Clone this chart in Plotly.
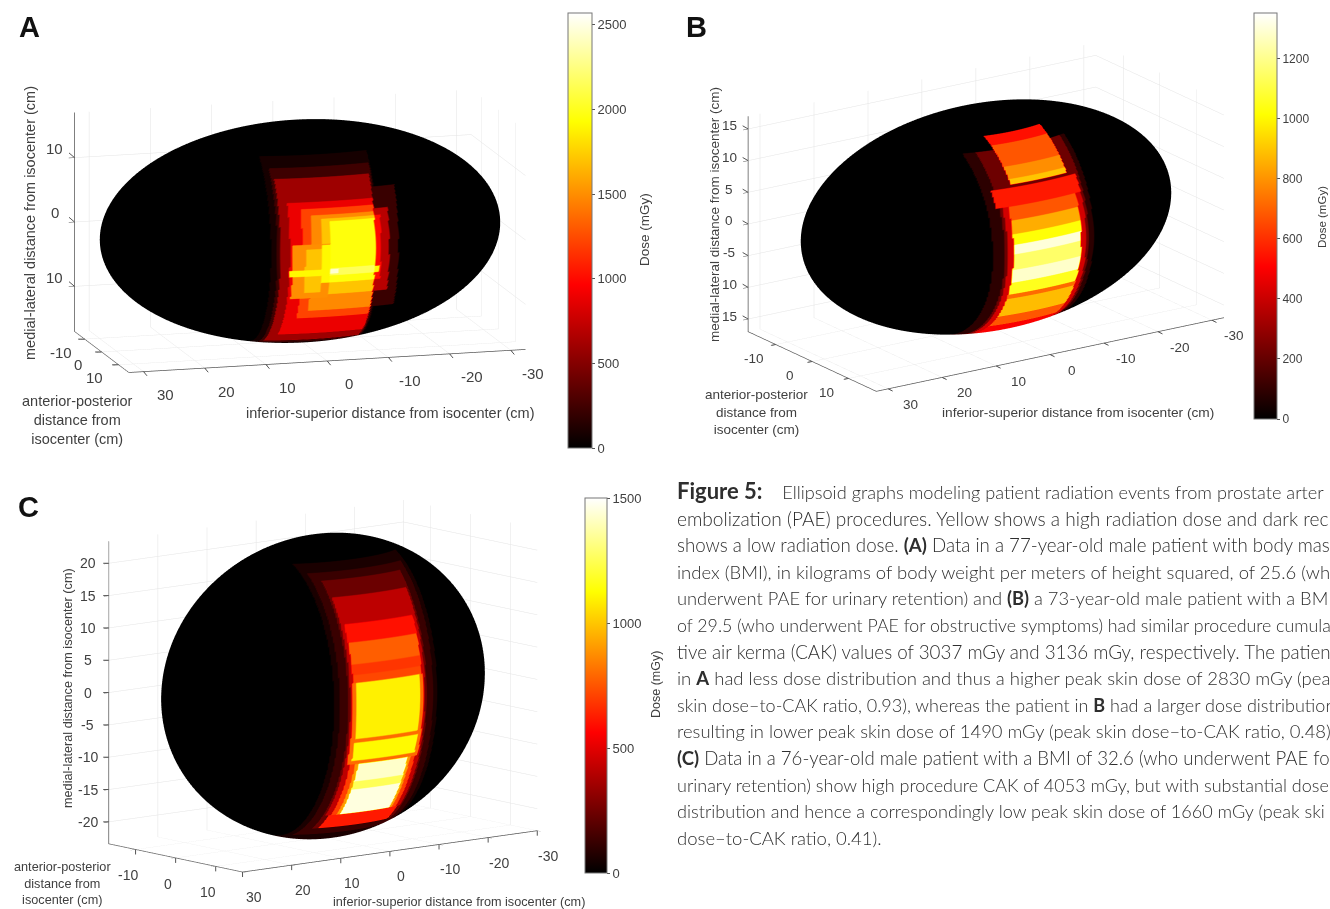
import numpy as np
import plotly.graph_objects as go

W, H = 1330, 909
FONT = "Liberation Sans"
GREY = "#404040"
HOT = [[0, "#000000"], [0.375, "#ff0000"], [0.75, "#ffff00"], [1, "#ffffff"]]

# Panel A: radiation fields (cm) and doses (mGy), painted in order
A_SEMI = (32.4, 16.0, 17.0)
A_X_LO = [-8.5, -8.3, -8, -8, -8, -8, -8, -8, -12, -10.4, -9, -0.6, 0.8, -0.6, -8.8, -8, -2]
A_X_HI = [9, 8, 7.5, 6, 4, 2.4, 0.8, -0.6, -8, -8, -8, 5.5, 3.5, 0.8, 6, -0.6, -0.6]
A_Z_LO = [-16.5, -16, -15.5, -14, -11, -9.7, -7, -5, -9.7, -7, -5, -7.5, -6.5, -5, -3.8, -3.8, -3.5]
A_Z_HI = [13.8, 12.3, 10.8, 7.5, 6.5, 5.6, 5, 4.6, 9, 6, 5, 1.2, 0.5, 1, -2.8, -2.6, -2.8]
A_DOSE = [90, 240, 600, 900, 1220, 1480, 1700, 1950, 220, 700, 1000, 1500, 1700, 1900, 1900, 2150, 2450]
A_MAX = 2570
A_CB_TICKS = [0, 500, 1000, 1500, 2000, 2500]
A_Z_TICKS = [-10, 0, 10]
A_Z_TEXT = ["10", "0", "10"]

# Panel B
B_SEMI = (32.2, 17.6, 17.0)
B_X_LO = [-8.5, -7.5, -7, -7, -6, -6, -6, -6, -6, -6, -6, -6, -6, -6, -6, -5.5, -5.5, -5.5, -5.5]
B_X_HI = [10, 8, 7.5, 8.5, 6.5, 6.5, 6.5, 6.5, 6.5, 6.5, 6.5, 6.5, 6.5, 6.5, 6.5, 5, 5, 5, 5]
B_Z_LO = [-17, -17, -15, 7, 5, 3, 1.4, -0.1, -2.6, -4.8, -7, -7.8, -11.2, -13.3, -17, 9.8, 10.5, 12, 14.5]
B_Z_HI = [14, 14, 9.4, 9.4, 7, 5, 3, 1.4, -0.1, -2.6, -4.8, -7, -7.8, -11.2, -13.3, 10.5, 12, 14.5, 15.5]
B_DOSE = [90, 220, 420, 560, 680, 850, 1020, 1300, 1150, 1280, 1050, 720, 880, 680, 500, 900, 790, 680, 540]
B_MAX = 1353
B_CB_TICKS = [0, 200, 400, 600, 800, 1000, 1200]
B_Z_TICKS = [-15, -10, -5, 0, 5, 10, 15]
B_Z_TEXT = ["15", "10", "-5", "0", "5", "10", "15"]

# Panel C
C_SEMI = (30.0, 16.7, 23.4)
C_X_LO = [-10.5, -9.5, -8, -7.6, -7, -7, -7, -7, -7.2, -6.4, -6.4, -6.6, -5.6, -5, -5, -5, -7]
C_X_HI = [10.5, 9.5, 8, 7.6, 7, 7, 7, 7, 7.2, 6.4, 6.4, 6.6, 5.6, 5, 5, 5, 7]
C_Z_LO = [-23, -21.5, -20.3, -18, 9.4, 6, 4.4, 3.2, -9.5, -5.4, -9, -18, -18, -12.5, -13.8, -18, -20.3]
C_Z_HI = [20.7, 19.4, 18.4, 16, 12, 9.4, 6, 4.4, 3.2, 3.2, -6, -9.5, -9.5, -9.5, -12.5, -13.8, -18]
C_DOSE = [60, 130, 240, 420, 600, 770, 680, 720, 800, 1090, 1110, 700, 900, 1420, 1250, 1450, 620]
C_MAX = 1500
C_CB_TICKS = [0, 500, 1000, 1500]
C_Z_TICKS = [-20, -15, -10, -5, 0, 5, 10, 15, 20]
C_Z_TEXT = ["-20", "-15", "-10", "-5", "0", "5", "10", "15", "20"]

X_TICKS = [-30, -20, -10, 0, 10, 20, 30]
Y_TICKS = [-10, 0, 10]

CAPTION = [
    "<b><span style=\"font-size:22px\">Figure 5:</span></b>\u00a0\u00a0\u00a0 Ellipsoid graphs modeling patient radiation events from prostate arter",
    "embolization (PAE) procedures. Yellow shows a high radiation dose and dark rec",
    "shows a low radiation dose. <b>(A)</b> Data in a 77-year-old male patient with body mas",
    "index (BMI), in kilograms of body weight per meters of height squared, of 25.6 (wh",
    "underwent PAE for urinary retention) and <b>(B)</b> a 73-year-old male patient with a BM",
    "of 29.5 (who underwent PAE for obstructive symptoms) had similar procedure cumula",
    "tive air kerma (CAK) values of 3037 mGy and 3136 mGy, respectively. The patien",
    "in <b>A</b> had less dose distribution and thus a higher peak skin dose of 2830 mGy (pea",
    "skin dose\u2013to-CAK ratio, 0.93), whereas the patient in <b>B</b> had a larger dose distributior",
    "resulting in lower peak skin dose of 1490 mGy (peak skin dose\u2013to-CAK ratio, 0.48)",
    "<b>(C)</b> Data in a 76-year-old male patient with a BMI of 32.6 (who underwent PAE fo",
    "urinary retention) show high procedure CAK of 4053 mGy, but with substantial dose",
    "distribution and hence a correspondingly low peak skin dose of 1660 mGy (peak ski",
    "dose\u2013to-CAK ratio, 0.41).",
]
CAPTION_SIZE = [18.2, 19.1, 18.7, 18.5, 18.3, 17.75, 18.8, 18.5, 18, 18.4, 18.6, 18, 18.1, 18.5]


def ellipsoid(semi, xlo, xhi, zlo, zhi, dose):
    lat = np.linspace(-np.pi / 2, np.pi / 2, 360, dtype=np.float32)
    lon = np.linspace(-np.pi, np.pi, 720, dtype=np.float32)
    lo, la = np.meshgrid(lon, lat)
    x = semi[0] * np.cos(la) * np.sin(lo)
    y = semi[1] * np.cos(la) * np.cos(lo)
    z = semi[2] * np.sin(la)
    d = np.zeros_like(x)
    for a, b, c, e, v in zip(xlo, xhi, zlo, zhi, dose):
        d[(x >= a) & (x < b) & (z >= c) & (z < e) & (y > 0)] = v
    return x, y, z, d


def axis(rng, ticks):
    return dict(
        range=[-rng, rng], tickvals=ticks, title=dict(text=""), showticklabels=False,
        showbackground=False, showgrid=True, gridcolor="#e4e4e4", gridwidth=1,
        zeroline=False, showline=True, linecolor="#555555", linewidth=1.5,
        ticks="outside", ticklen=6, tickcolor="#555555", showspikes=False,
    )


fig = go.Figure()
annots = []


def px_box(x0, x1, y0, y1):
    return dict(x=[x0 / W, x1 / W], y=[1 - y1 / H, 1 - y0 / H])


def label(x, y, text, size, angle=0, **kw):
    annots.append(dict(x=x / W, y=1 - y / H, xref="paper", yref="paper", text=text, showarrow=False,
                       textangle=angle, xanchor=kw.get("xanchor", "center"), yanchor="middle",
                       font=dict(family=kw.get("family", FONT), size=size, color=kw.get("color", GREY),
                                 weight=kw.get("weight", 400))))


def panel(scene, semi, fields, cmax, cbticks, cb, cbsize, dom, az, el, fxy, fz, zt, zl, ticksize,
          xs, ys, zs, xd, yd, zd):
    x, y, z, d = ellipsoid(semi, *fields)
    fig.add_trace(go.Surface(
        x=x, y=y, z=z, surfacecolor=d, cmin=0, cmax=cmax, colorscale=HOT, scene=scene,
        hoverinfo="skip", lighting=dict(ambient=1, diffuse=0, specular=0, fresnel=0, roughness=1),
        colorbar=dict(x=cb[0] / W, xanchor="left", y=1 - (cb[2] + cb[3]) / 2 / H, yanchor="middle",
                      len=cb[3] - cb[2], lenmode="pixels", thickness=cb[1] - cb[0], thicknessmode="pixels",
                      xpad=0, ypad=0, tickvals=cbticks, ticks="outside", ticklen=3, tickcolor="#555555",
                      outlinecolor="#777777", outlinewidth=1,
                      tickfont=dict(family=FONT, size=cbsize, color=GREY)),
    ))
    a, e = np.radians(az), np.radians(el)
    dist = 1.5
    eye = dict(x=dist * np.sin(a) * np.cos(e), y=dist * np.cos(a) * np.cos(e), z=dist * np.sin(e))
    tick_font = dict(family=FONT, size=ticksize, color=GREY)

    def tick(px, py, pz, text, shift, mark):
        return [
            dict(x=px, y=py, z=pz, text=text, showarrow=False, xanchor="center", yanchor="middle",
                 xshift=shift[0], yshift=-shift[1], font=tick_font),
            dict(x=px, y=py, z=pz, text=" ", showarrow=True, arrowhead=0, arrowwidth=1, arrowcolor="#555555",
                 ax=mark[0], ay=mark[1], standoff=0, startstandoff=0, font=dict(size=1)),
        ]

    notes = []
    for t in X_TICKS:
        notes += tick(t, semi[1], -semi[2], str(t), xs, xd)
    for t in Y_TICKS:
        notes += tick(semi[0], t, -semi[2], str(t), ys, yd)
    for t, s in zip(zt, zl):
        notes += tick(semi[0], -semi[1], t, s, zs, zd)
    fig.update_layout(**{scene: dict(
        domain=px_box(*dom),
        xaxis=axis(semi[0], X_TICKS), yaxis=axis(semi[1], Y_TICKS), zaxis=axis(semi[2], zt),
        aspectmode="manual",
        aspectratio=dict(x=semi[0] / 20 * fxy, y=semi[1] / 20 * fxy, z=semi[2] / 20 * fz),
        camera=dict(eye=eye, up=dict(x=0, y=0, z=1), center=dict(x=0, y=0, z=0),
                    projection=dict(type="orthographic")),
        annotations=notes,
    )})


panel("scene", A_SEMI, (A_X_LO, A_X_HI, A_Z_LO, A_Z_HI, A_DOSE), A_MAX, A_CB_TICKS, (568, 592, 13, 448), 13,
      (5, 595, 0, 462), 15.5, 12.1, 1.10, 1.14, A_Z_TICKS, A_Z_TEXT, 15, (22, 23), (-24, 13), (-20, -9),
      (5, 6), (-8, 0), (-7, -6))
panel("scene2", B_SEMI, (B_X_LO, B_X_HI, B_Z_LO, B_Z_HI, B_DOSE), B_MAX, B_CB_TICKS, (1254, 1277, 13, 419), 12,
      (686, 1286, 0, 434), 34, 18.3, 1.20, 1.23, B_Z_TICKS, B_Z_TEXT, 13.5, (22, 15.5), (-22, 14), (-19, -3),
      (6, 3), (-6, 1), (-7, -4))
panel("scene3", C_SEMI, (C_X_LO, C_X_HI, C_Z_LO, C_Z_HI, C_DOSE), C_MAX, C_CB_TICKS, (585, 607, 498, 873), 13,
      (0, 646, 463, 909), 39.2, 9.9, 1.137, 1.177, C_Z_TICKS, C_Z_TEXT, 14, (11, 25), (-8, 26), (-21, 0),
      (0, 7), (0, 7), (-7, 0))

label(29, 27, "<b>A</b>", 29, color="#111111")
label(696, 27, "<b>B</b>", 29, color="#111111")
label(28, 507, "<b>C</b>", 29, color="#111111")

Z_T = "medial-lateral distance from isocenter (cm)"
X_T = "inferior-superior distance from isocenter (cm)"
label(30, 223, Z_T, 14.5, -90)
label(390, 413, X_T, 14.5)
label(77, 420, "anterior-posterior<br>distance from<br>isocenter (cm)", 14.5)
label(644, 230, "Dose (mGy)", 13.5, -90)

label(714, 215, Z_T, 13.5, -90)
label(1078, 412, X_T, 13.7)
label(756, 412, "anterior-posterior<br>distance from<br>isocenter (cm)", 13.5)
label(1322, 217, "Dose (mGy)", 11.5, -90)

label(68, 688, Z_T, 12.7, -90)
label(459, 902, X_T, 12.7)
label(62, 883, "anterior-posterior<br>distance from<br>isocenter (cm)", 12.7)
label(656, 685, "Dose (mGy)", 12.5, -90)

for i, line in enumerate(CAPTION):
    label(675, (490 if i == 0 else 492 + i * 26.6), line, CAPTION_SIZE[i], xanchor="left", family="Lato",
          color="#2e2e2e", weight=300)

fig.update_layout(width=W, height=H, margin=dict(l=0, r=0, t=0, b=0), paper_bgcolor="white",
                  showlegend=False, annotations=annots)
fig.write_html("out.html", config={"displayModeBar": False},
               post_script="document.body.style.margin='0';document.documentElement.style.overflow='hidden';")
